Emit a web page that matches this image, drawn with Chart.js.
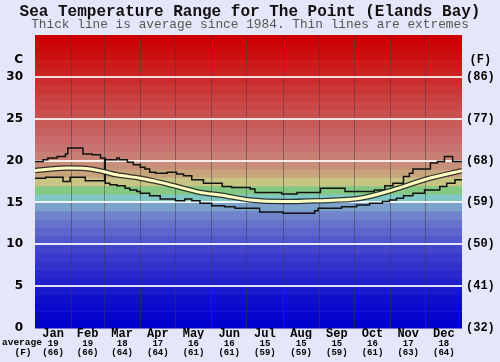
<!DOCTYPE html>
<html>
<head>
<meta charset="utf-8">
<script src="https://cdn.jsdelivr.net/npm/chart.js@4"></script>
<style>
  body { margin: 0; background: #e6e6fa; }
  #wrap { width: 500px; height: 362px; }
</style>
</head>
<body>
<div id="wrap"><canvas id="seaChart"></canvas></div>
<script>
const months = ['Jan', 'Feb', 'Mar', 'Apr', 'May', 'Jun', 'Jul', 'Aug', 'Sep', 'Oct', 'Nov', 'Dec'];
const monthStarts = [31, 59, 90, 120, 151, 181, 212, 243, 273, 304, 334];
const monthMids = [15.5, 45, 74.5, 105, 135.5, 166, 196.5, 227.5, 258, 288.5, 319, 349.5];
const avgC = [19, 19, 18, 17, 16, 16, 15, 15, 15, 16, 17, 18];
const avgF = [66, 66, 64, 64, 61, 61, 59, 59, 59, 61, 63, 64];

const maxDays = [0, 7, 11, 19, 26, 28, 41, 49, 56, 60, 70, 72, 79, 84, 90, 94, 98, 103, 113, 121,
  127, 134, 144, 160, 168, 184, 188, 211, 224, 244, 265, 290, 299, 306, 315, 320, 323, 338, 344, 350, 357, 365];
const maxTemps = [19.9, 20.1, 20.3, 20.5, 20.8, 21.5, 20.8, 20.7, 20.3, 20.1, 20.3, 20.1, 19.8, 19.5, 19.2, 19.0, 18.6, 18.5, 18.6, 18.4,
  18.2, 17.7, 17.3, 16.9, 16.8, 16.6, 16.2, 16.0, 16.2, 16.7, 16.3, 16.5, 17.0, 17.3, 18.1, 18.5, 19.0, 19.7, 19.9, 20.5, 19.9, 19.9];

const minDays = [0, 9, 24, 30, 43, 59.5, 60, 64, 70, 77, 81, 87, 90, 98, 107, 120, 128, 134, 141, 151,
  162, 171, 192, 212, 239, 242, 262, 275, 286, 297, 303, 309, 315, 323, 333, 346, 352, 359, 365];
const minTemps = [17.9, 18.0, 17.5, 18.0, 17.6, 20.1, 17.3, 17.1, 17.0, 16.7, 16.5, 16.3, 16.1, 15.8, 15.4, 15.2, 15.4, 15.2, 14.9, 14.6,
  14.5, 14.3, 13.85, 13.7, 14.0, 14.3, 14.5, 14.7, 14.9, 15.1, 15.3, 15.5, 15.8, 16.1, 16.5, 16.9, 17.3, 17.7, 17.7];

const avgDays = [0, 13, 30, 47, 58, 70, 90, 107, 124, 141, 158, 184, 212, 241, 278, 306, 335, 365];
const avgTemps = [18.8, 19.0, 19.1, 19.0, 18.7, 18.3, 17.9, 17.4, 16.8, 16.2, 15.9, 15.3, 15.1, 15.2, 15.5, 16.5, 17.8, 18.8];

const yTicks = [0, 5, 10, 15, 20, 25, 30, 32];

// one colour per degree band, 0-1 up to 34-35
const bandColors = ['#0000cc', '#0505cc', '#0a0acc', '#1010cc', '#1818cc', '#2020cc', '#2828cc', '#3232cc', '#3a3acc', '#4444cc',
  '#5058cc', '#5c66cc', '#6672cc', '#7084cc', '#7ca2cc', '#80c8c4', '#84c884', '#c8c484', '#c8a47c', '#c8907a',
  '#c88074', '#c87470', '#c86a6a', '#c86262', '#c85a5a', '#ca5050', '#ca4848', '#ca4040', '#cb3636', '#cb2c2c',
  '#cc2222', '#cc1a1a', '#cc1010', '#cc0808', '#cc0000'];

const pts = (xs, ys) => xs.map((x, i) => ({ x, y: ys[i] }));
const mono = 'Liberation Mono, monospace';

const bands = {
  id: 'bands',
  beforeDraw(chart) {
    const { ctx, chartArea: a, scales: { y } } = chart;
    ctx.save();
    bandColors.forEach((c, i) => {
      const top = y.getPixelForValue(i + 1);
      const bot = y.getPixelForValue(i);
      ctx.fillStyle = c;
      ctx.fillRect(a.left, top, a.right - a.left, bot - top + 0.5);
    });
    ctx.restore();
  },
  afterDraw(chart) {
    const ctx = chart.ctx;
    ctx.save();
    ctx.fillStyle = '#000';
    ctx.font = 'bold 9.5px ' + mono;
    ctx.textBaseline = 'middle';
    ctx.textAlign = 'left';
    ctx.fillText('average', 2, 343);
    ctx.textAlign = 'center';
    ctx.fillText('(F)', 23, 352.5);
    ctx.restore();
  }
};

new Chart(document.getElementById('seaChart'), {
  type: 'line',
  data: {
    datasets: [
      {
        label: 'Average',
        data: pts(avgDays, avgTemps),
        borderColor: '#ffffc4',
        borderWidth: 3,
        cubicInterpolationMode: 'monotone',
        pointRadius: 0,
        order: 0,
      },
      {
        label: 'Average outline',
        data: pts(avgDays, avgTemps),
        borderColor: 'rgba(20,20,20,0.8)',
        borderWidth: 5.5,
        cubicInterpolationMode: 'monotone',
        pointRadius: 0,
        order: 1,
      },
      {
        label: 'Max',
        data: pts(maxDays, maxTemps),
        borderColor: '#111',
        borderWidth: 1.5,
        stepped: 'before',
        pointRadius: 0,
        order: 2,
      },
      {
        label: 'Min',
        data: pts(minDays, minTemps),
        borderColor: '#111',
        borderWidth: 1.5,
        stepped: 'before',
        pointRadius: 0,
        order: 2,
      },
    ],
  },
  options: {
    responsive: true,
    maintainAspectRatio: false,
    animation: false,
    devicePixelRatio: 1,
    layout: { padding: 0 },
    plugins: {
      legend: { display: false },
      tooltip: { enabled: false },
      title: {
        display: true,
        text: 'Sea Temperature Range for The Point (Elands Bay)',
        color: '#111',
        font: { family: mono, size: 16, weight: 'bold', lineHeight: 0.875 },
        padding: { top: 4.5, bottom: 0 },
      },
      subtitle: {
        display: true,
        text: 'Thick line is average since 1984. Thin lines are extremes',
        color: '#555',
        font: { family: mono, size: 12.8, lineHeight: 0.94 },
        padding: { top: 0.5, bottom: 4 },
      },
    },
    scales: {
      x: {
        type: 'linear',
        min: 0,
        max: 365,
        position: 'bottom',
        weight: 0,
        afterBuildTicks: s => { s.ticks = monthStarts.map(v => ({ value: v })); },
        afterFit: s => { s.height = 0; },
        ticks: { display: false },
        border: { display: false },
        grid: { color: 'rgba(60,60,60,0.5)', lineWidth: 1, drawTicks: false },
      },
      xm: {
        type: 'linear',
        min: 0,
        max: 365,
        position: 'bottom',
        weight: 1,
        afterBuildTicks: s => { s.ticks = monthMids.map(v => ({ value: v })); },
        afterFit: s => { s.height = 11; },
        ticks: {
          autoSkip: false,
          maxRotation: 0,
          padding: 0,
          color: '#000',
          font: { family: mono, size: 12, weight: 'bold', lineHeight: 1 },
          callback: (v, i) => months[i],
        },
        border: { display: false },
        grid: { display: false, drawTicks: false },
      },
      xv: {
        type: 'linear',
        min: 0,
        max: 365,
        position: 'bottom',
        weight: 2,
        afterBuildTicks: s => { s.ticks = monthMids.map(v => ({ value: v })); },
        afterFit: s => { s.height = 23; },
        ticks: {
          autoSkip: false,
          maxRotation: 0,
          padding: 0,
          color: '#000',
          font: { family: mono, size: 9, weight: 'bold', lineHeight: 1.0 },
          callback: (v, i) => [String(avgC[i]), '(' + avgF[i] + ')'],
        },
        border: { display: false },
        grid: { display: false, drawTicks: false },
      },
      y: {
        min: 0,
        max: 35,
        position: 'left',
        afterBuildTicks: s => { s.ticks = yTicks.map(v => ({ value: v })); },
        afterFit: s => { s.width = 35; },
        ticks: {
          padding: 12,
          color: '#000',
          font: { family: 'DejaVu Sans', size: 12, weight: 'bold' },
          callback: v => (v === 32 ? 'C' : v),
        },
        border: { display: false },
        grid: {
          drawTicks: false,
          lineWidth: 2,
          color: c => (c.tick.value > 0 && c.tick.value <= 30 ? 'rgba(255,255,255,0.85)' : 'rgba(0,0,0,0)'),
        },
      },
      y2: {
        min: 0,
        max: 35,
        position: 'right',
        afterBuildTicks: s => { s.ticks = yTicks.map(v => ({ value: v })); },
        afterFit: s => { s.width = 38; },
        ticks: {
          padding: 4,
          crossAlign: 'center',
          color: '#000',
          font: { family: mono, size: 12, weight: 'bold' },
          callback: v => (v === 32 ? '(F)' : '(' + Math.round(v * 9 / 5 + 32) + ')'),
        },
        border: { display: false },
        grid: { display: false, drawTicks: false },
      },
    },
  },
  plugins: [bands],
});
</script>
</body>
</html>
